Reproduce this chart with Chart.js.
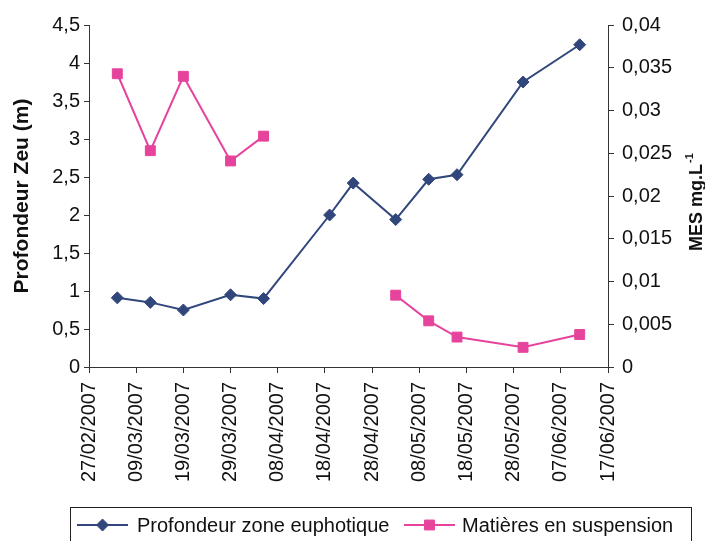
<!DOCTYPE html>
<html lang="fr">
<head>
<meta charset="UTF-8">
<title>Profondeur Zeu et MES</title>
<script src="https://cdn.jsdelivr.net/npm/chart.js@4"></script>
<style>
    html, body { margin: 0; padding: 0; background: #fff; }
    #box { width: 705px; height: 541px; }
</style>
</head>
<body>
<div id="box"><canvas id="zeuChart"></canvas></div>
<script>
    // dates des prélèvements (jj/mm/aaaa)
    const dates = ['05/03/2007', '12/03/2007', '19/03/2007', '29/03/2007', '05/04/2007', '19/04/2007',
                   '24/04/2007', '03/05/2007', '10/05/2007', '16/05/2007', '30/05/2007', '11/06/2007'];
    // profondeur zone euphotique (m), axe de gauche
    const zeu = [0.91, 0.85, 0.75, 0.95, 0.90, 2.0, 2.42, 1.94, 2.47, 2.53, 3.75, 4.24];
    // matières en suspension (mg/L), axe de droite ; null = pas de mesure
    const mes = [0.0343, 0.0253, 0.034, 0.0241, 0.027, null, null, 0.0084, 0.0054, 0.0035, 0.0023, 0.0038];
    const startDate = '27/02/2007';
    const endDate = '17/06/2007';
    const stepDays = 10;

    const FONT = '"Liberation Sans", Arial, sans-serif';
    const BLUE = '#31477c';
    const PINK = '#e6449c';
    const DAY = 86400000;

    function parseDate(s) {
        const p = s.split('/');
        return Date.UTC(+p[2], +p[1] - 1, +p[0]);
    }
    const t0 = parseDate(startDate);
    const dayOf = s => Math.round((parseDate(s) - t0) / DAY);
    function fmtDay(d) {
        const dt = new Date(t0 + d * DAY);
        const dd = String(dt.getUTCDate()).padStart(2, '0');
        const mm = String(dt.getUTCMonth() + 1).padStart(2, '0');
        return dd + '/' + mm + '/' + dt.getUTCFullYear();
    }
    const comma = v => String(Number(v.toFixed(4))).replace('.', ',');

    // légende encadrée + titre de l'axe de droite
    const extras = {
        id: 'extras',
        afterDraw(chart) {
            const ctx = chart.ctx;
            ctx.save();
            ctx.strokeStyle = '#222';
            ctx.lineWidth = 1;
            ctx.strokeRect(70.5, 507.5, 621, 40);
            const items = [
                { ds: chart.data.datasets[0], x1: 77, x2: 128, tx: 137 },
                { ds: chart.data.datasets[1], x1: 404, x2: 455, tx: 462 }
            ];
            const y = 525;
            items.forEach(it => {
                ctx.strokeStyle = it.ds.borderColor;
                ctx.lineWidth = 2;
                ctx.beginPath();
                ctx.moveTo(it.x1, y);
                ctx.lineTo(it.x2, y);
                ctx.stroke();
                ctx.fillStyle = it.ds.pointBackgroundColor;
                ctx.strokeStyle = it.ds.borderColor;
                ctx.lineWidth = 1;
                Chart.helpers.drawPoint(ctx, {
                    pointStyle: it.ds.pointStyle, radius: it.ds.pointRadius, rotation: 0, borderWidth: 1
                }, (it.x1 + it.x2) / 2, y);
                ctx.fillStyle = '#111';
                ctx.font = '20px ' + FONT;
                ctx.textAlign = 'left';
                ctx.textBaseline = 'middle';
                ctx.fillText(it.ds.label, it.tx, y + 1);
            });

            // MES mg.L-1, lu de bas en haut
            ctx.translate(697, 251);
            ctx.rotate(-Math.PI / 2);
            ctx.fillStyle = '#111';
            ctx.textAlign = 'left';
            ctx.textBaseline = 'middle';
            ctx.font = 'bold 18px ' + FONT;
            ctx.fillText('MES mg.L', 0, 0);
            const w = ctx.measureText('MES mg.L').width;
            ctx.font = 'bold 11px ' + FONT;
            ctx.fillText('-1', w + 1, -7);
            ctx.restore();
        }
    };

    const xs = dates.map(dayOf);
    new Chart(document.getElementById('zeuChart'), {
        type: 'line',
        data: {
            datasets: [{
                label: 'Profondeur zone euphotique',
                data: xs.map((x, i) => ({ x: x, y: zeu[i] })),
                yAxisID: 'y',
                borderColor: BLUE,
                backgroundColor: BLUE,
                pointBackgroundColor: BLUE,
                borderWidth: 2,
                pointStyle: 'rectRot',
                pointRadius: 6,
                pointBorderWidth: 1,
                tension: 0
            }, {
                label: 'Matières en suspension',
                data: xs.map((x, i) => ({ x: x, y: mes[i] })),
                yAxisID: 'y1',
                borderColor: PINK,
                backgroundColor: PINK,
                pointBackgroundColor: PINK,
                borderWidth: 2,
                pointStyle: 'rect',
                pointRadius: 7,
                pointBorderWidth: 1,
                tension: 0,
                spanGaps: false
            }]
        },
        options: {
            responsive: true,
            maintainAspectRatio: false,
            animation: false,
            events: [],
            layout: { padding: { top: 25, left: 0, right: 0, bottom: 0 } },
            plugins: {
                legend: { display: false },
                tooltip: { enabled: false }
            },
            scales: {
                x: {
                    type: 'linear',
                    min: 0,
                    max: dayOf(endDate),
                    border: { display: true, color: '#333', width: 1 },
                    grid: { display: true, drawOnChartArea: false, drawTicks: true, tickLength: 6, color: '#333' },
                    ticks: {
                        stepSize: stepDays,
                        autoSkip: false,
                        maxRotation: 90,
                        minRotation: 90,
                        padding: 9,
                        color: '#111',
                        font: { family: FONT, size: 20 },
                        callback: v => fmtDay(v)
                    },
                    afterFit: s => { s.height = 174; }
                },
                y: {
                    position: 'left',
                    min: 0,
                    max: 4.5,
                    border: { display: true, color: '#333', width: 1 },
                    grid: { display: true, drawOnChartArea: false, drawTicks: true, tickLength: 5, color: '#333' },
                    ticks: {
                        stepSize: 0.5,
                        padding: 4,
                        color: '#111',
                        font: { family: FONT, size: 20 },
                        callback: v => comma(v)
                    },
                    title: {
                        display: true,
                        text: 'Profondeur Zeu (m)',
                        color: '#111',
                        font: { family: FONT, size: 21, weight: 'bold' },
                        padding: { top: 10, bottom: 0 }
                    },
                    afterFit: s => { s.width = 89; }
                },
                y1: {
                    position: 'right',
                    min: 0,
                    max: 0.04,
                    border: { display: true, color: '#333', width: 1 },
                    grid: { display: true, drawOnChartArea: false, drawTicks: true, tickLength: 6, color: '#333' },
                    ticks: {
                        stepSize: 0.005,
                        padding: 8,
                        color: '#111',
                        font: { family: FONT, size: 20 },
                        callback: v => comma(v)
                    },
                    afterFit: s => { s.width = 97; }
                }
            }
        },
        plugins: [extras]
    });
</script>
</body>
</html>
